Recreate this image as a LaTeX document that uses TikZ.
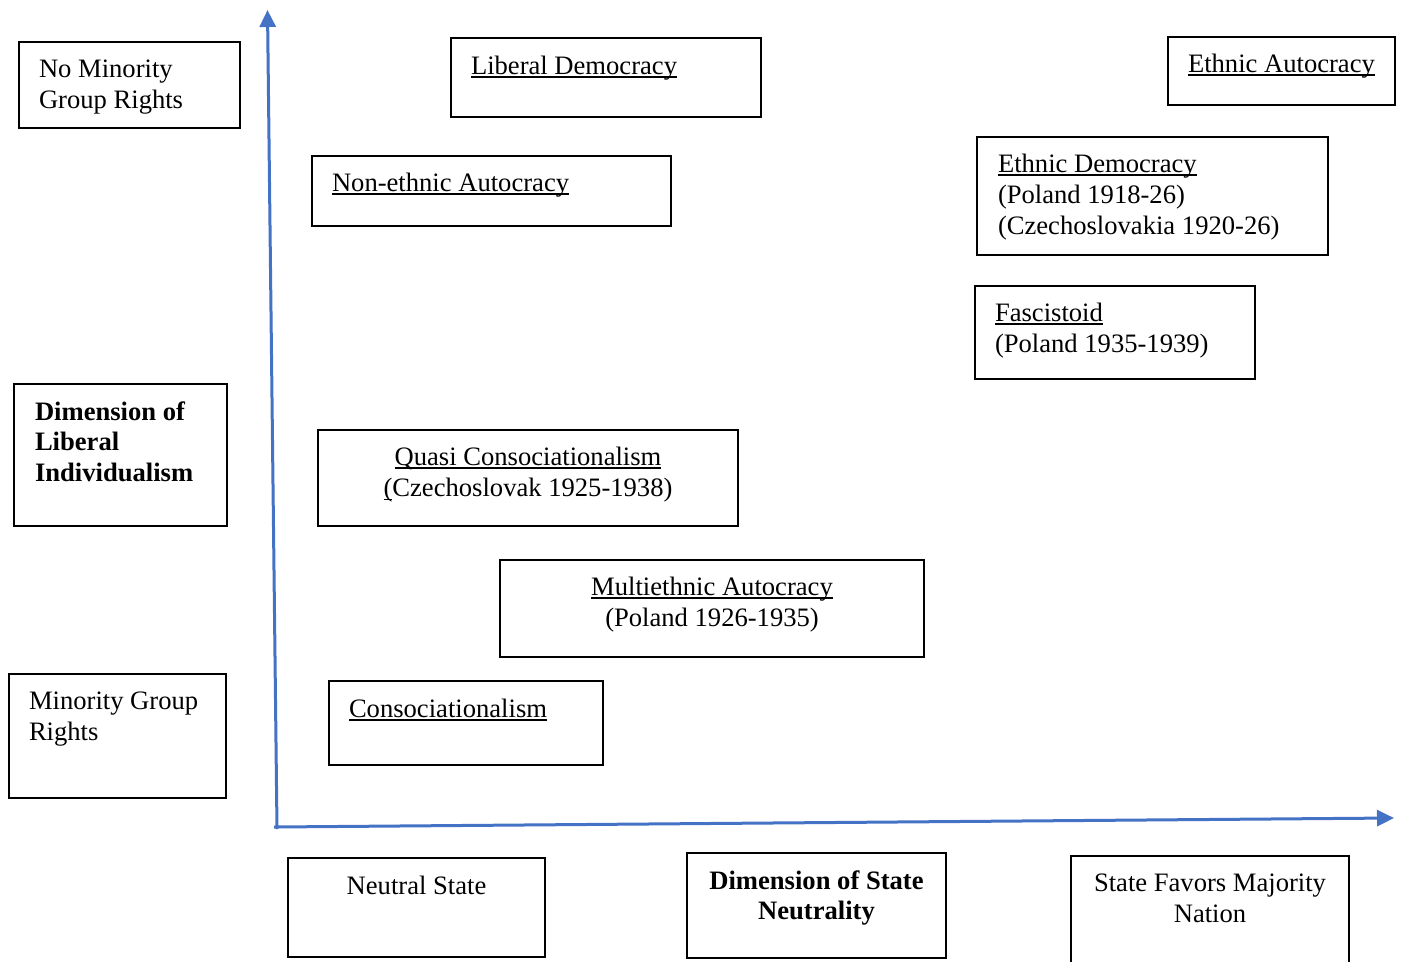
\documentclass[tikz,border=0pt]{standalone}
\usepackage{fontspec}
\setmainfont{Liberation Serif}
\usetikzlibrary{arrows.meta,calc}

% underline sitting just below the baseline, crossed by descenders
\newcommand\udl[1]{\setbox0\hbox{#1}\rlap{\rule[-3.8pt]{\wd0}{1.7pt}}\box0}

% rectangle given by its corners: name, left, top, right, bottom
\newcommand\panel[5]{%
  \node[panelbox, minimum width={#4-#2}, minimum height={#5-#3}]
    (#1) at ({(#2+#4)/2},{(#3+#5)/2}) {};}

% line pitch of the labels; a node's base is the baseline of its last line
\def\lp{31.4}
\def\blp{30.9}

\tikzset{
  panelbox/.style={draw=black, line width=1.6pt, inner sep=0pt, outer sep=0pt},
  lbl/.style={inner sep=0pt, outer sep=0pt, align=left,
    font=\fontsize{26.6}{31.4}\selectfont},
  blbl/.style={lbl, font=\fontsize{26.6}{30.9}\selectfont\bfseries},
  clbl/.style={lbl, align=center},
  axis/.style={draw={rgb,255:red,68;green,114;blue,196}, line width=3pt,
    -{Triangle[width=16pt,length=17pt]}},
}

\begin{document}
\begin{tikzpicture}[x=1pt,y=-1pt]
\useasboundingbox (0,0) rectangle (1402,961);

% axes
\coordinate (origin) at (277,827);
\coordinate (ytip) at (267.5,10);
\coordinate (xtip) at (1394,818);
\draw[axis] ($(origin)+(0,2)$) -- (ytip);
\draw[axis] ($(origin)+(-3,0)$) -- (xtip);

% regime boxes
\panel{nomin}{19}{42}{240}{128}
\node[lbl, anchor=base west] at ($(nomin.north west)+(20,35+\lp)$) {No Minority\\Group Rights};

\panel{libdem}{451}{38}{761}{117}
\node[lbl, anchor=base west] at ($(libdem.north west)+(20,36)$) {\udl{Liberal Democracy}};

\panel{ethaut}{1168}{37}{1395}{105}
\node[lbl, anchor=base west] at ($(ethaut.north west)+(20,35)$) {\udl{Ethnic Autocracy}};

\panel{nonaut}{312}{156}{671}{226}
\node[lbl, anchor=base west] at ($(nonaut.north west)+(20,35)$) {\udl{Non-ethnic Autocracy}};

\panel{ethdem}{977}{137}{1328}{255}
\node[lbl, anchor=base west] at ($(ethdem.north west)+(21,35+2*\lp)$) {\udl{Ethnic Democracy}\\(Poland 1918-26)\\(Czechoslovakia 1920-26)};

\panel{fasc}{975}{286}{1255}{379}
\node[lbl, anchor=base west] at ($(fasc.north west)+(20,35+\lp)$) {\udl{Fascistoid}\\(Poland 1935-1939)};

\panel{dimlib}{14}{384}{227}{526}
\node[blbl, anchor=base west] at ($(dimlib.north west)+(21,36+2*\blp)$) {Dimension of\\Liberal\\Individualism};

\panel{quasi}{318}{430}{738}{526}
\node[clbl, anchor=base] at ($(quasi.north)+(0,35+\lp)$) {\udl{Quasi Consociationalism}\\\udl{(}Czechoslovak 1925-1938)};

\panel{multi}{500}{560}{924}{657}
\node[clbl, anchor=base] at ($(multi.north)+(0,35+\lp)$) {\udl{Multiethnic Autocracy}\\(Poland 1926-1935)};

\panel{minrights}{9}{674}{226}{798}
\node[lbl, anchor=base west] at ($(minrights.north west)+(20,35+\lp)$) {Minority Group\\Rights};

\panel{consoc}{329}{681}{603}{765}
\node[lbl, anchor=base west] at ($(consoc.north west)+(20,36)$) {\udl{Consociationalism}};

% state neutrality labels
\panel{neutral}{288}{858}{545}{957}
\node[clbl, anchor=base] at ($(neutral.north)+(0,36)$) {Neutral State};

\panel{dimstate}{687}{853}{946}{958}
\node[blbl, align=center, anchor=base] at ($(dimstate.north)+(0,36+\blp)$) {Dimension of State\\Neutrality};

\panel{favors}{1071}{856}{1349}{990}
\node[clbl, anchor=base] at ($(favors.north)+(0,35+\lp)$) {State Favors Majority\\Nation};
\end{tikzpicture}
\end{document}
